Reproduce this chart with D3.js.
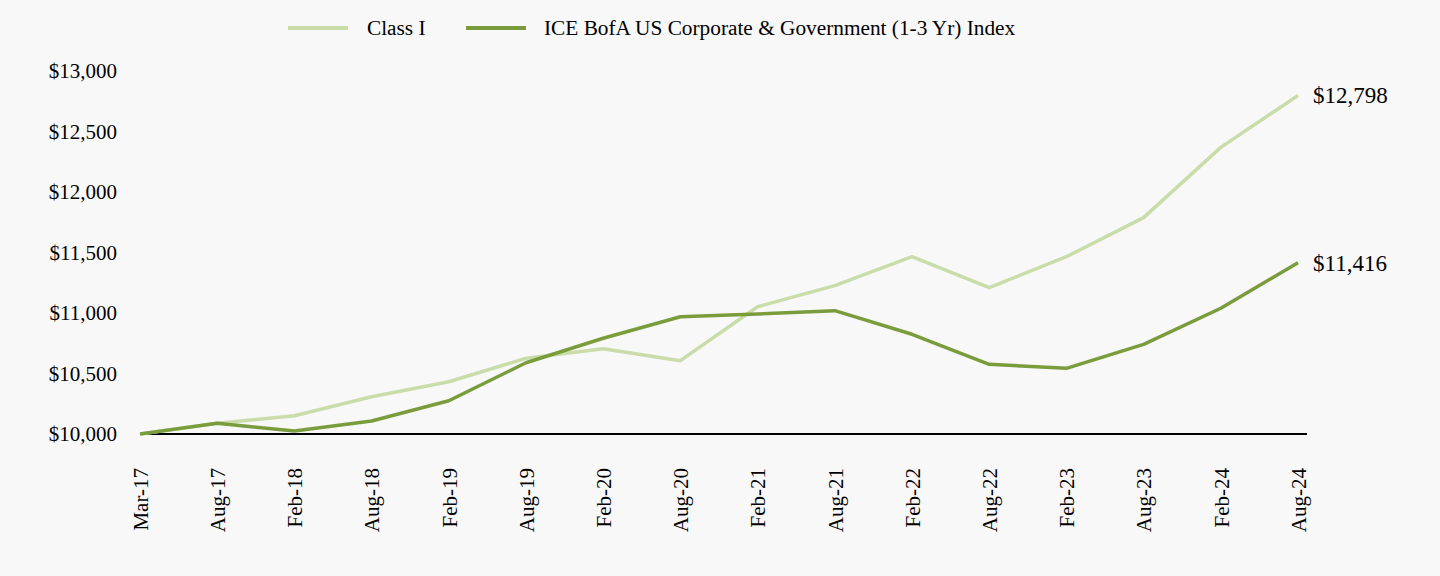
<!DOCTYPE html>
<html>
<head>
<meta charset="utf-8">
<script src="https://cdn.jsdelivr.net/npm/d3@7"></script>
<style>
  html, body { margin: 0; padding: 0; background: #f8f8f8; }
  svg { display: block; }
  text { font-family: "Liberation Serif", "Times New Roman", serif; fill: #000; }
</style>
</head>
<body>
<svg id="chart" width="1440" height="576"></svg>
<script>
const categories = ["Mar-17","Aug-17","Feb-18","Aug-18","Feb-19","Aug-19","Feb-20","Aug-20","Feb-21","Aug-21","Feb-22","Aug-22","Feb-23","Aug-23","Feb-24","Aug-24"];
const classI = [10000,10088,10151,10308,10432,10626,10705,10606,11052,11226,11465,11209,11465,11788,12369,12798];
const indexVals = [10000,10088,10025,10107,10275,10589,10791,10969,10992,11019,10824,10576,10543,10741,11039,11416];
const yTicks = [10000,10500,11000,11500,12000,12500,13000];
const seriesNames = ["Class I","ICE BofA US Corporate & Government (1-3 Yr) Index"];
const colors = ["#cadcaa","#7a9c3c"];

const svg = d3.select("#chart");
svg.append("rect").attr("width",1440).attr("height",576).attr("fill","#f8f8f8");

const x = d3.scalePoint().domain(categories).range([140, 1298]);
const y = d3.scaleLinear().domain([10000, 13000]).range([434, 71]);
const fmt = d => "$" + d3.format(",")(d);

// Y axis labels
const yAxis = d3.axisLeft(y).tickValues(yTicks).tickFormat(fmt).tickSize(0).tickPadding(0);
const gy = svg.append("g").attr("transform","translate(117,0)").call(yAxis);
gy.select(".domain").remove();
gy.selectAll("text").attr("font-size", 21).attr("font-family","Liberation Serif, serif").attr("fill","#000");

// X axis labels
const xAxis = d3.axisBottom(x).tickSize(0).tickPadding(0);
const gx = svg.append("g").attr("transform","translate(0,434)").call(xAxis);
gx.select(".domain").remove();
gx.selectAll("text")
  .attr("font-size", 21).attr("font-family","Liberation Serif, serif").attr("fill","#000")
  .attr("text-anchor","end")
  .attr("transform","rotate(-90)")
  .attr("x", -34).attr("y", 0).attr("dy","0.35em");

// baseline
svg.append("line").attr("x1",140).attr("x2",1307).attr("y1",y(10000)).attr("y2",y(10000))
  .attr("stroke","#000").attr("stroke-width",2);

const line = d3.line().x((d,i)=>x(categories[i])).y(d=>y(d));
[classI, indexVals].forEach((vals, k) => {
  svg.append("path").datum(vals).attr("d", line)
    .attr("fill","none").attr("stroke",colors[k]).attr("stroke-width",3.5)
    .attr("stroke-linejoin","round");
  svg.append("text").attr("x", 1313).attr("y", y(vals[vals.length-1])).attr("dy","0.35em")
    .attr("font-size",23).text(fmt(vals[vals.length-1]));
});

// Legend
const legendPos = [{sx:288, tx:367},{sx:466, tx:544}];
seriesNames.forEach((n,k) => {
  svg.append("line").attr("x1",legendPos[k].sx).attr("x2",legendPos[k].sx+60)
    .attr("y1",28).attr("y2",28).attr("stroke",colors[k]).attr("stroke-width",4);
  svg.append("text").attr("x",legendPos[k].tx).attr("y",28).attr("dy","0.35em")
    .attr("font-size",21.3).text(n);
});
</script>
</body>
</html>
